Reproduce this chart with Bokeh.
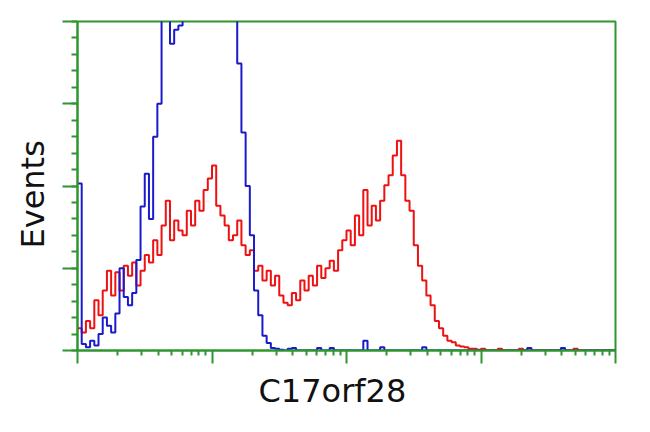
import numpy as np
from bokeh.plotting import figure
from bokeh.models import FixedTicker, Range1d, Title
from bokeh.embed import file_html
from bokeh.resources import INLINE

# Histogram channels: 32 bins per decade over 4 decades (1 .. 10^4)
BINS_PER_DECADE = 32
N_DECADES = 4

# Red histogram (stained sample), counts per bin
red_counts = [27, 22, 36, 27, 61, 43, 73, 97, 67, 95,
              73, 103, 91, 107, 79, 97, 116, 107, 134, 116,
              152, 182, 134, 158, 146, 140, 170, 152, 182, 170,
              195, 209, 225, 176, 164, 152, 134, 140, 158, 128,
              116, 122, 97, 103, 85, 97, 79, 91, 67, 58,
              55, 70, 61, 85, 73, 91, 79, 103, 88, 100,
              109, 97, 122, 134, 146, 128, 164, 140, 195, 152,
              176, 158, 182, 201, 213, 237, 255, 213, 182, 170,
              128, 103, 85, 67, 55, 36, 27, 18, 12, 10,
              6, 5, 4, 2, 2, 1, 2, 0, 0, 0,
              2, 0, 0, 0, 0, 2, 0, 0, 0, 0,
              0, 0, 0, 0, 0, 0, 0, 0, 2, 0,
              0, 0, 0, 0, 0, 0, 0, 0]

# Blue histogram (control), counts per bin
blue_counts = [203, 8, 4, 12, 6, 20, 40, 30, 22, 45,
               100, 65, 55, 70, 110, 175, 215, 160, 260, 300,
               450, 480, 373, 390, 395, 520, 610, 700, 780, 830,
               860, 850, 820, 760, 690, 600, 520, 430, 349, 265,
               200, 140, 73, 43, 18, 9, 3, 2, 1, 0,
               2, 3, 0, 0, 0, 0, 0, 3, 0, 0,
               3, 0, 0, 0, 0, 0, 0, 0, 12, 0,
               0, 0, 4, 0, 0, 0, 0, 0, 0, 0,
               0, 0, 4, 0, 0, 0, 0, 0, 0, 0,
               0, 0, 0, 0, 0, 0, 0, 0, 0, 0,
               0, 0, 0, 0, 0, 0, 0, 3, 0, 0,
               0, 0, 0, 0, 0, 3, 0, 0, 0, 0,
               0, 0, 0, 0, 0, 0, 0, 0]

y_major = [0, 100, 200, 300, 400]
y_minor = [v for v in range(0, 401, 20)]
x_major = [1, 10, 100, 1000, 10000]
x_minor = [k * 10 ** d for d in range(4) for k in range(2, 10)]

x_title = "C17orf28"
y_title = "Events"

GREEN = "#2f962f"

nb = len(red_counts)
edges = 10 ** (np.arange(nb + 1) / BINS_PER_DECADE)

p = figure(frame_width=538, frame_height=329, x_axis_type="log",
           x_range=Range1d(1, 10 ** N_DECADES), y_range=Range1d(0, 400),
           output_backend="svg", toolbar_location=None,
           min_border_left=77, min_border_top=21, min_border_right=20,
           min_border_bottom=72)
p.background_fill_color = "white"
p.border_fill_color = "white"
p.grid.visible = False
p.outline_line_color = GREEN
p.outline_line_width = 2

ry = list(red_counts) + [red_counts[-1]]
by = list(blue_counts) + [blue_counts[-1]]
p.step(edges, ry, mode="after", line_color="#ee1111", line_width=2)
p.step(edges, by, mode="after", line_color="#1a1acc", line_width=2)

for ax in (p.xaxis[0], p.yaxis[0]):
    ax.axis_line_color = GREEN
    ax.axis_line_width = 2
    ax.major_tick_line_color = GREEN
    ax.minor_tick_line_color = GREEN
    ax.major_tick_line_width = 2
    ax.minor_tick_line_width = 2
    ax.major_tick_in = 0
    ax.minor_tick_in = 0
    ax.major_label_text_font_size = "1px"
    ax.major_label_text_color = None
    ax.major_label_standoff = 0

p.xaxis[0].ticker = FixedTicker(ticks=x_major, minor_ticks=x_minor)
p.yaxis[0].ticker = FixedTicker(ticks=y_major, minor_ticks=y_minor)
p.xaxis[0].major_tick_out = 13
p.xaxis[0].minor_tick_out = 5
p.yaxis[0].major_tick_out = 15
p.yaxis[0].minor_tick_out = 6

title_style = dict(text_font="DejaVu Sans", text_font_size="32px",
                   text_font_style="normal", text_color="#111111",
                   align="left")
p.add_layout(Title(text=x_title, offset=181, standoff=12, **title_style), "below")
p.add_layout(Title(text=y_title, offset=102, standoff=22, **title_style), "left")

open("out.html", "w").write(file_html(p, INLINE))
